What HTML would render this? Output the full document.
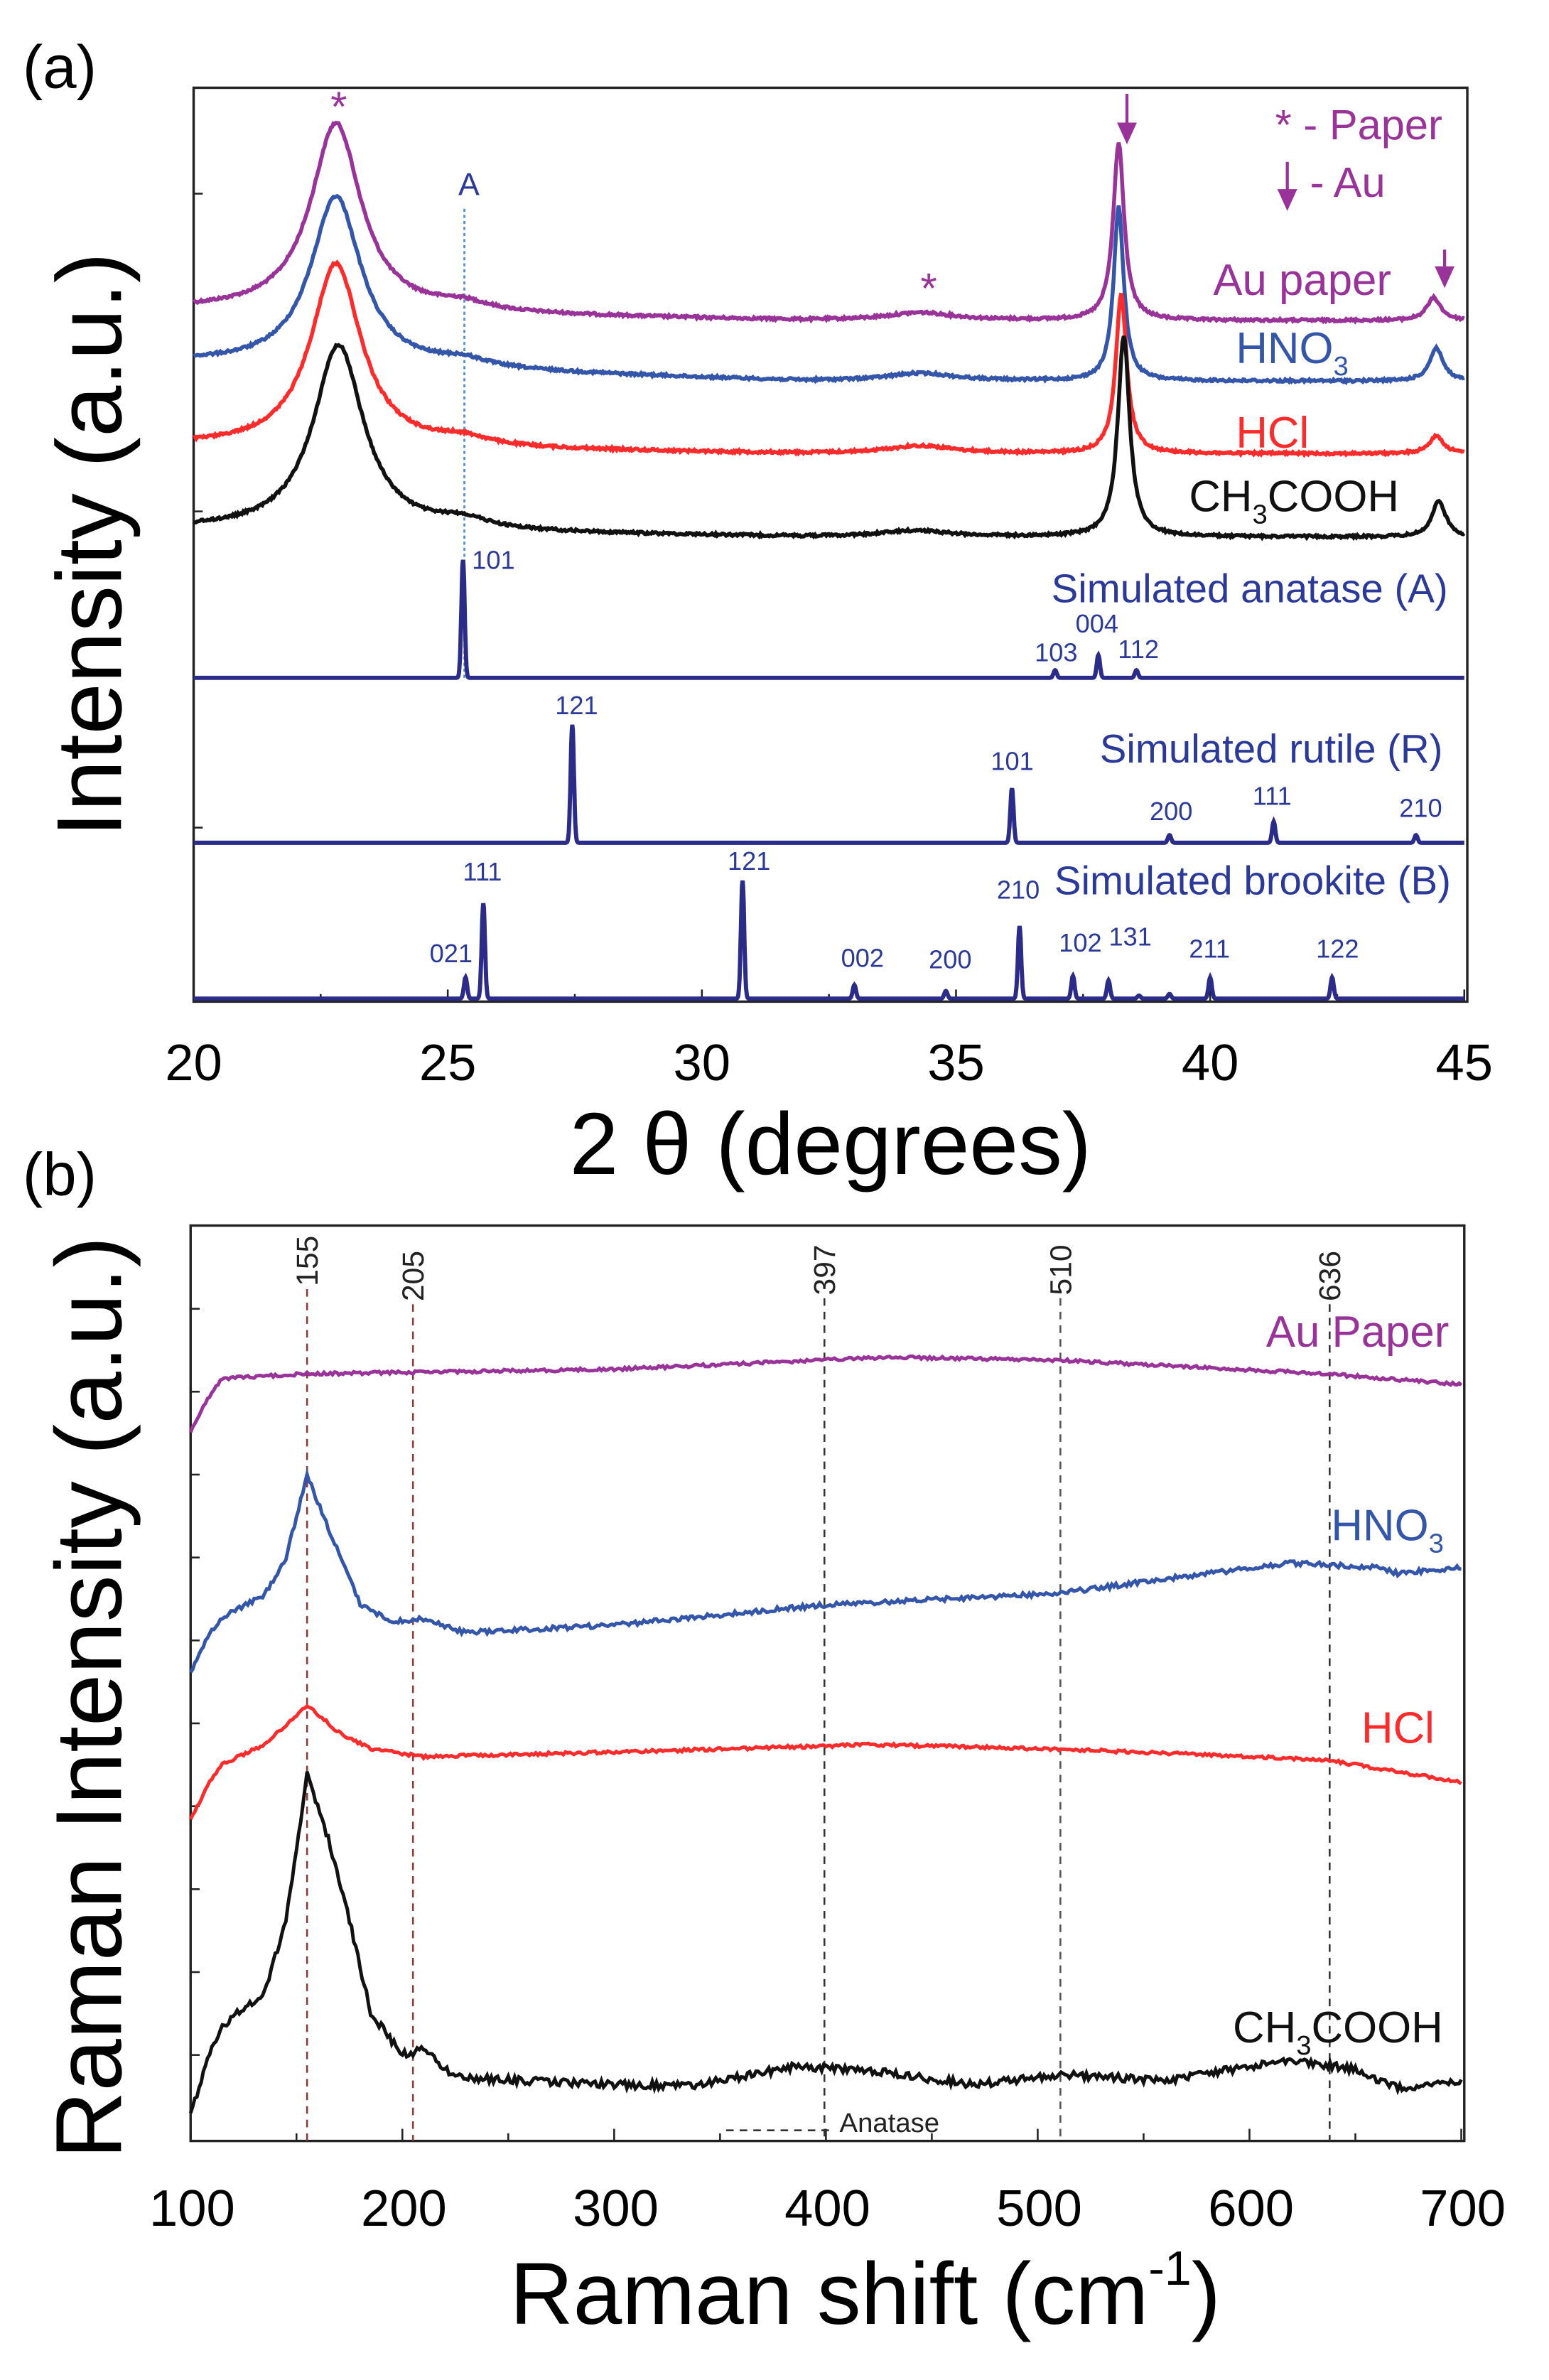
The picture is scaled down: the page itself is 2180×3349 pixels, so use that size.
<!DOCTYPE html>
<html><head><meta charset="utf-8">
<style>
html,body{margin:0;padding:0;background:#fff;}
svg{display:block;}
text{font-family:"Liberation Sans",Arial,sans-serif;}
</style></head>
<body>
<svg id="s" width="2180" height="3349" viewBox="0 0 1024 1573" preserveAspectRatio="none" xmlns="http://www.w3.org/2000/svg">
<rect width="1024" height="1573" fill="#fff"/>
<rect x="128" y="58" width="842" height="604" fill="none" stroke="#222" stroke-width="1.6"/>
<g id="ticksA" stroke="#222" stroke-width="1.2"></g>
<text x="15" y="58" font-size="40">(a)</text>
<g font-size="34" text-anchor="middle">
<text x="128" y="714">20</text><text x="296" y="714">25</text><text x="464" y="714">30</text>
<text x="632" y="714">35</text><text x="800" y="714">40</text><text x="968" y="714">45</text>
</g>
<text x="549" y="776" font-size="58" text-anchor="middle">2 θ (degrees)</text>
<text transform="translate(80,360) rotate(-90)" font-size="61" text-anchor="middle">Intensity (a.u.)</text>
<line x1="307" y1="138" x2="307" y2="448" stroke="#4a90d9" stroke-width="1.3" stroke-dasharray="2,2"/>
<text x="310" y="129" font-size="21" fill="#2b3a9a" text-anchor="middle">A</text>
<g id="curvesA" fill="none" stroke-width="2.6"></g>
<g fill="#993399">
<text x="224" y="80" font-size="28" text-anchor="middle">*</text>
<text x="614" y="200" font-size="28" text-anchor="middle">*</text>
<text x="843" y="92" font-size="28">* - Paper</text>
<text x="866" y="130" font-size="28">- Au</text>
<text x="802" y="195" font-size="29">Au paper</text>
</g>
<g stroke="#993399" stroke-width="2" fill="#993399">
<line x1="745" y1="62" x2="745" y2="84"/><polygon points="740,82 750,82 745,93"/>
<line x1="851" y1="107" x2="851" y2="128"/><polygon points="846,126 856,126 851,137"/>
<line x1="955" y1="165" x2="955" y2="179"/><polygon points="950,177 960,177 955,188"/>
</g>
<text x="817" y="240" font-size="29" fill="#3355aa">HNO<tspan font-size="18" dy="8">3</tspan></text>
<text x="817" y="296" font-size="29" fill="#ff2a2a">HCl</text>
<text x="786" y="338" font-size="29" fill="#111">CH<tspan font-size="18" dy="8">3</tspan><tspan dy="-8">COOH</tspan></text>
<g fill="#2b3a9a">
<text x="695" y="398" font-size="26.5">Simulated anatase (A)</text>
<text x="727" y="504" font-size="26.5">Simulated rutile (R)</text>
<text x="697" y="591" font-size="26.5">Simulated brookite (B)</text>
</g>
<g fill="#2b3a9a" font-size="17">
<text x="312" y="376">101</text><text x="684" y="437">103</text><text x="711" y="418">004</text><text x="739" y="435">112</text>
<text x="367" y="472">121</text><text x="655" y="509">101</text><text x="760" y="542">200</text><text x="828" y="532">111</text><text x="925" y="540">210</text>
<text x="284" y="636">021</text><text x="306" y="582">111</text><text x="481" y="575">121</text><text x="556" y="639">002</text><text x="614" y="640">200</text><text x="659" y="594">210</text><text x="700" y="629">102</text><text x="733" y="625">131</text><text x="786" y="633">211</text><text x="870" y="633">122</text>
</g>
<g id="simA" fill="none" stroke="#2b2b8a" stroke-width="2.8"></g>

<text x="15" y="790" font-size="40">(b)</text>
<rect x="126" y="810" width="842" height="605" fill="none" stroke="#222" stroke-width="1.6"/>
<g id="ticksB" stroke="#222" stroke-width="1.2"></g>
<g font-size="34" text-anchor="middle">
<text x="127" y="1471">100</text><text x="267" y="1471">200</text><text x="407" y="1471">300</text>
<text x="547" y="1471">400</text><text x="687" y="1471">500</text><text x="827" y="1471">600</text><text x="967" y="1471">700</text>
</g>
<text x="572" y="1536" font-size="58" text-anchor="middle">Raman shift (cm<tspan font-size="32" dy="-26">-1</tspan><tspan dy="26">)</tspan></text>
<text transform="translate(80,1122) rotate(-90)" font-size="62" text-anchor="middle">Raman Intensity (a.u.)</text>
<g stroke-width="1.2" stroke-dasharray="5,4" fill="none">
<line x1="203" y1="852" x2="203" y2="1415" stroke="#8b3a3a"/>
<line x1="273" y1="862" x2="273" y2="1415" stroke="#8b3a3a"/>
<line x1="545" y1="858" x2="545" y2="1415" stroke="#333"/>
<line x1="701" y1="858" x2="701" y2="1415" stroke="#555"/>
<line x1="879" y1="862" x2="879" y2="1415" stroke="#333"/>
<line x1="480" y1="1408" x2="550" y2="1408" stroke="#333"/>
</g>
<g font-size="20" fill="#222">
<text transform="translate(210,850) rotate(-90)">155</text>
<text transform="translate(280,860) rotate(-90)">205</text>
<text transform="translate(552,856) rotate(-90)">397</text>
<text transform="translate(708,856) rotate(-90)">510</text>
<text transform="translate(886,860) rotate(-90)">636</text>
</g>
<text x="555" y="1409" font-size="18" fill="#222">Anatase</text>
<g id="curvesB" fill="none" stroke-width="2.3"></g>
<text x="837" y="890" font-size="29" fill="#993399">Au Paper</text>
<text x="880" y="1018" font-size="29" fill="#3355aa">HNO<tspan font-size="18" dy="8">3</tspan></text>
<text x="900" y="1152" font-size="29" fill="#ff2a2a">HCl</text>
<text x="815" y="1350" font-size="29" fill="#111">CH<tspan font-size="18" dy="8">3</tspan><tspan dy="-8">COOH</tspan></text>
</svg>
<script>
(function(){
var NS="http://www.w3.org/2000/svg";
function el(p,tag,attrs){var e=document.createElementNS(NS,tag);for(var k in attrs)e.setAttribute(k,attrs[k]);document.getElementById(p).appendChild(e);return e;}
var seed=12345;function rnd(){seed=(seed*1103515245+12345)%2147483648;return seed/2147483648;}
function L(t,c,g){return 1/(1+((t-c)/g)*(t-c)/g);}
function X(t){return 128+(t-20)*33.6;}
[20,25,30,35,40,45].forEach(function(t){el("ticksA","line",{x1:X(t),y1:662,x2:X(t),y2:654});});
[22.5,27.5,32.5,37.5,42.5].forEach(function(t){el("ticksA","line",{x1:X(t),y1:662,x2:X(t),y2:657});});
[128,338,547].forEach(function(y){el("ticksA","line",{x1:128,y1:y,x2:134,y2:y});});
var cur=[
 {c:"#993399",b0:205,b1:212,p:[[22.8,125,0.6],[25.3,5,0.6],[34.3,5,0.8],[38.2,117,0.13],[44.4,15,0.17]]},
 {c:"#3355aa",b0:240,b1:252,p:[[22.8,113,0.6],[25.3,5,0.6],[34.3,5,0.8],[38.2,115,0.12],[44.45,22,0.16]]},
 {c:"#ff2a2a",b0:295,b1:300,p:[[22.8,122,0.6],[25.3,5,0.6],[34.3,5,0.8],[38.25,105,0.13],[44.45,12,0.17]]},
 {c:"#111111",b0:350,b1:355,p:[[22.85,123,0.6],[25.3,6,0.6],[34.2,4,0.8],[38.3,133,0.14],[44.5,24,0.16]]}
];
cur.forEach(function(s){
 var d="";for(var t=20;t<=45.001;t+=0.025){
  var base=s.b0+(s.b1-s.b0)*Math.min(1,(t-20)/12);
  var y=base;s.p.forEach(function(q){y-=q[1]*L(t,q[0],q[2]);});
  y+=(rnd()-0.5)*1.6;
  d+=(d?"L":"M")+X(t).toFixed(1)+","+y.toFixed(1);}
 el("curvesA","path",{d:d,stroke:s.c});
});
var sim=[
 {b:448,p:[[25.3,78],[36.95,5],[37.8,15],[38.55,5]]},
 {b:557,p:[[27.45,78],[36.1,36],[39.2,5],[41.25,14],[44.05,5]]},
 {b:660,p:[[25.35,14],[25.7,63],[30.8,78],[33.0,9],[34.8,5],[36.25,48],[37.3,15],[38.0,12],[38.6,2],[39.2,3],[40.0,14],[42.4,14]]}
];
sim.forEach(function(s){
 var d="";for(var t=20;t<=45.001;t+=0.01){
  var y=s.b;s.p.forEach(function(q){var z=(t-q[0])/0.045;y-=q[1]*Math.exp(-z*z);});
  d+=(d?"L":"M")+X(t).toFixed(1)+","+y.toFixed(1);}
 el("simA","path",{d:d});
});
function W(w){return 126+(w-100)*1.4;}
for(var i=0;i<10;i++){var y=865+54.8*i;el("ticksB","line",{x1:126,y1:y,x2:132,y2:y});}
for(var w=100;w<=700;w+=50){el("ticksB","line",{x1:W(w),y1:1415,x2:W(w),y2:(w%100==0?1407:1410)});}
function interp(pts,w){for(var i=0;i<pts.length-1;i++){if(w>=pts[i][0]&&w<=pts[i+1][0]){var f=(w-pts[i][0])/(pts[i+1][0]-pts[i][0]);return pts[i][1]+f*(pts[i+1][1]-pts[i][1]);}}return pts[pts.length-1][1];}
var rb=[
 {c:"#993399",n:2,pts:[[100,946],[108,925],[115,911],[155,908],[300,905],[430,897],[510,899],[636,908],[700,915]]},
 {c:"#3355aa",n:3,pts:[[100,1105],[108,1082],[115,1069],[135,1054],[145,1030],[155,975],[165,1010],[180,1060],[195,1072],[210,1070],[230,1079],[300,1074],[397,1061],[510,1053],[580,1040],[620,1033],[660,1036],[670,1040],[700,1036]]},
 {c:"#ff2a2a",n:2,pts:[[100,1203],[108,1180],[115,1166],[135,1153],[155,1127],[170,1145],[185,1156],[210,1161],[300,1158],[400,1154],[420,1153],[510,1156],[636,1163],[700,1178]]},
 {c:"#111111",n:5,pts:[[100,1398],[108,1360],[115,1339],[135,1316],[145,1270],[155,1173],[165,1215],[175,1269],[185,1330],[200,1358],[210,1355],[225,1373],[300,1378],[340,1378],[385,1366],[420,1368],[470,1378],[510,1371],[560,1375],[600,1366],[620,1361],[650,1368],[670,1380],[700,1375]]}
];
rb.forEach(function(s){
 var d="";for(var w=100;w<=700;w+=1){
  var y=interp(s.pts,w)+(rnd()-0.5)*s.n;
  d+=(d?"L":"M")+W(w).toFixed(1)+","+y.toFixed(1);}
 el("curvesB","path",{d:d,stroke:s.c});
});
})();
</script>
</body></html>
